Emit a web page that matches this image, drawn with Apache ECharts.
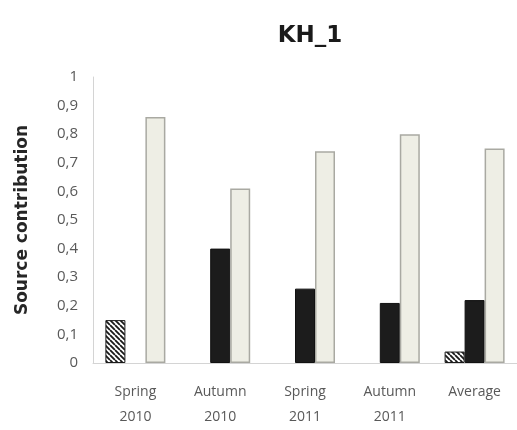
<!DOCTYPE html>
<html>
<head>
<meta charset="utf-8">
<script src="https://cdn.jsdelivr.net/npm/echarts@6/dist/echarts.min.js"></script>
<style>
  html, body { margin: 0; padding: 0; background: #ffffff; }
  #chart { width: 517px; height: 430px; }
</style>
</head>
<body>
<div id="chart"></div>
<script>
// Sampling campaigns at site KH_1
const categories = ['Spring\n2010', 'Autumn\n2010', 'Spring\n2011', 'Autumn\n2011', 'Average'];

// Contribution of each source (fraction of total)
const sourceHatched = [0.15, 0, 0, 0, 0.04];
const sourceBlack = [0, 0.40, 0.26, 0.21, 0.22];
const sourceLight = [0.86, 0.61, 0.74, 0.80, 0.75];

// Y axis range
const yMin = 0;
const yMax = 1;
const yStep = 0.1;

// A zero contribution leaves an empty slot rather than a flat outline
const asBars = arr => arr.map(v => (v === 0 ? null : v));

// Diagonal hatch fill for the first source
function makeHatch() {
  const size = 5;
  const c = document.createElement('canvas');
  c.width = size; c.height = size;
  const ctx = c.getContext('2d');
  ctx.fillStyle = '#ffffff';
  ctx.fillRect(0, 0, size, size);
  ctx.strokeStyle = '#1a1a1a';
  ctx.lineWidth = 1.8;
  ctx.beginPath();
  for (let k = -size; k <= size; k += size) {
    ctx.moveTo(k, 0);
    ctx.lineTo(k + size, size);
  }
  ctx.stroke();
  return c;
}

const chart = echarts.init(document.getElementById('chart'), null, { renderer: 'canvas' });
const labelFont = '"Open Sans", sans-serif';
const boldFont = '"DejaVu Sans", sans-serif';

chart.setOption({
  animation: false,
  backgroundColor: '#ffffff',
  title: {
    text: 'KH_1',
    left: 305,
    top: 20,
    textAlign: 'center',
    textStyle: { fontFamily: boldFont, fontWeight: 'bold', fontSize: 23, color: '#1a1a1a' }
  },
  grid: { left: 93, right: -7, top: 77, bottom: 67 },
  xAxis: {
    type: 'category',
    data: categories,
    axisLine: { lineStyle: { color: '#d4d4d4', width: 1 } },
    axisTick: { show: false },
    axisLabel: {
      fontFamily: labelFont, fontSize: 14, color: '#595959',
      lineHeight: 25, margin: 17, interval: 0
    }
  },
  yAxis: {
    type: 'value',
    min: yMin,
    max: yMax,
    interval: yStep,
    name: 'Source contribution',
    nameLocation: 'middle',
    nameGap: 62,
    nameTextStyle: { fontFamily: boldFont, fontWeight: 'bold', fontSize: 17, color: '#262626' },
    axisLine: { show: true, lineStyle: { color: '#d4d4d4', width: 1 } },
    axisTick: { show: false },
    splitLine: { show: false },
    axisLabel: {
      fontFamily: labelFont, fontSize: 15, color: '#595959', margin: 15,
      formatter: v => String(Math.round(v * 10) / 10).replace('.', ',')
    }
  },
  series: [
    {
      name: 'Source A',
      type: 'bar',
      data: asBars(sourceHatched),
      barWidth: 20,
      barGap: '0%',
      itemStyle: {
        color: { image: makeHatch(), repeat: 'repeat' },
        borderColor: '#1a1a1a',
        borderWidth: 1
      }
    },
    {
      name: 'Source B',
      type: 'bar',
      data: asBars(sourceBlack),
      barWidth: 20,
      barGap: '0%',
      itemStyle: { color: '#1c1c1c', borderColor: '#111111', borderWidth: 1 }
    },
    {
      name: 'Source C',
      type: 'bar',
      data: asBars(sourceLight),
      barWidth: 20,
      barGap: '0%',
      itemStyle: { color: '#eeeee5', borderColor: '#a9a9a2', borderWidth: 1.5 }
    }
  ]
});
</script>
</body>
</html>
